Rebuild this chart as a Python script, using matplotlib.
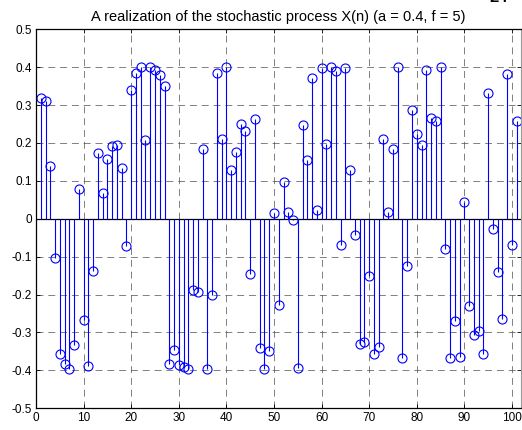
import numpy as np
import matplotlib.pyplot as plt

plt.rcParams['font.family'] = ['Liberation Sans', 'DejaVu Sans']

# realization values X(n), n = 1..101
n = np.arange(1, 102)
x_n = [0.32, 0.31, 0.139, -0.104, -0.357, -0.383, -0.397, -0.333, 0.078, -0.267,
       -0.389, -0.137, 0.174, 0.068, 0.157, 0.193, 0.195, 0.134, -0.073, 0.339,
       0.385, 0.4, 0.209, 0.4, 0.392, 0.38, 0.35, -0.383, -0.345, -0.387,
       -0.391, -0.397, -0.187, -0.193, 0.183, -0.396, -0.202, 0.385, 0.21, 0.4,
       0.128, 0.177, 0.25, 0.232, -0.146, 0.263, -0.342, -0.396, -0.348, 0.015,
       -0.228, 0.096, 0.019, -0.003, -0.393, 0.247, 0.154, 0.372, 0.023, 0.398,
       0.197, 0.4, 0.391, -0.07, 0.398, 0.128, -0.043, -0.33, -0.324, -0.15,
       -0.357, -0.337, 0.21, 0.017, 0.184, 0.4, -0.367, -0.124, 0.287, 0.224,
       0.195, 0.393, 0.267, 0.257, 0.4, -0.081, -0.367, -0.271, -0.365, 0.045,
       -0.23, -0.307, -0.296, -0.357, 0.333, -0.026, -0.141, -0.265, 0.383, -0.07,
       0.257]

xticks = [0, 10, 20, 30, 40, 50, 60, 70, 80, 90, 100]
yticks = [-0.5, -0.4, -0.3, -0.2, -0.1, 0, 0.1, 0.2, 0.3, 0.4, 0.5]
ytick_labels = ['-0.5', '-0.4', '-0.3', '-0.2', '-0.1', '0',
                '0.1', '0.2', '0.3', '0.4', '0.5']
title = 'A realization of the stochastic process X(n) (a = 0.4, f = 5)'

fig = plt.figure(figsize=(5.22, 4.30), dpi=100)
ax = fig.add_axes([0.069, 0.0505, 0.93, 0.8814])

ax.axhline(0, color='k', lw=0.9, zorder=2)
markers, stems, base = ax.stem(n, x_n, linefmt='b-', markerfmt='bo', basefmt='k-')
base.set_visible(False)
stems.set_linewidth(0.8)
stems.set_color((0, 0, 1))
markers.set_markerfacecolor('none')
markers.set_markeredgecolor((0, 0, 1))
markers.set_markersize(6.5)
markers.set_markeredgewidth(0.8)

ax.set_xlim(0, 102)
ax.set_ylim(-0.5, 0.5)
ax.set_xticks(xticks)
ax.set_yticks(yticks)
ax.set_yticklabels(ytick_labels)
ax.tick_params(direction='in', top=True, right=True, length=3, width=0.6,
               labelsize=8.5, pad=3)
ax.grid(True, color='0.3', lw=0.5, linestyle=(0, (10, 7)))
ax.set_axisbelow(True)
for side in ['left', 'bottom', 'top']:
    ax.spines[side].set_linewidth(0.9)
ax.spines['right'].set_color('0.6')

ax.set_title(title, fontsize=10.5, pad=6)

# page number cut off at the top of the scan
fig.text(0.955, 1.006, '24', fontsize=12, fontweight='bold', ha='center', va='center')

fig.savefig('out.png', dpi=100)
